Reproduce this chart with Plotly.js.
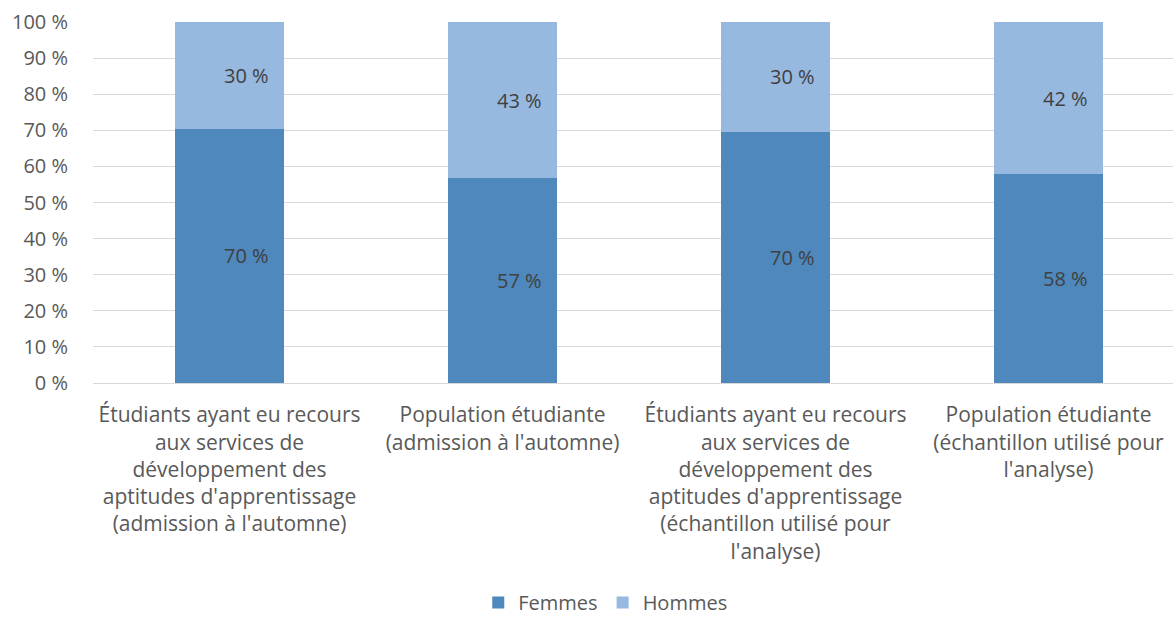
<!DOCTYPE html>
<html>
<head>
<meta charset="utf-8">
<script src="https://cdn.plot.ly/plotly-3.0.1.min.js"></script>
<style>html,body{margin:0;padding:0;background:#fff;}#chart{width:1173px;height:622px;}</style>
</head>
<body>
<div id="chart"></div>
<script>
const categories = [
  "Étudiants ayant eu recours<br>aux services de<br>développement des<br>aptitudes d'apprentissage<br>(admission à l'automne)",
  "Population étudiante<br>(admission à l'automne)",
  "Étudiants ayant eu recours<br>aux services de<br>développement des<br>aptitudes d'apprentissage<br>(échantillon utilisé pour<br>l'analyse)",
  "Population étudiante<br>(échantillon utilisé pour<br>l'analyse)"
];
const femmes = [70.4, 56.7, 69.6, 57.8];
const hommes = [29.6, 43.3, 30.4, 42.2];
const femmesLabels = ["70 %", "57 %", "70 %", "58 %"];
const hommesLabels = ["30 %", "43 %", "30 %", "42 %"];
const yTicks = [0, 10, 20, 30, 40, 50, 60, 70, 80, 90, 100];
const yTickText = ["0 %", "10 %", "20 %", "30 %", "40 %", "50 %", "60 %", "70 %", "80 %", "90 %", "100 %"];

const FONT = "Open Sans, Liberation Sans, sans-serif";
const idx = categories.map((c, i) => i);

const traces = [
  {type: "bar", name: "Femmes", x: idx, y: femmes, marker: {color: "#4F88BC"}, width: 0.4, hoverinfo: "none"},
  {type: "bar", name: "Hommes", x: idx, y: hommes, marker: {color: "#97B8DF"}, width: 0.4, hoverinfo: "none"}
];

const annotations = [];
idx.forEach(i => {
  annotations.push({x: i, y: femmes[i] / 2, text: femmesLabels[i], showarrow: false, xshift: 17,
    font: {family: FONT, size: 20, color: "#404040"}});
  annotations.push({x: i, y: femmes[i] + hommes[i] / 2, text: hommesLabels[i], showarrow: false, xshift: 17,
    font: {family: FONT, size: 20, color: "#404040"}});
});

const layout = {
  width: 1173, height: 622,
  margin: {l: 93, r: 0, t: 22, b: 239, autoexpand: false},
  barmode: "stack",
  paper_bgcolor: "#fff", plot_bgcolor: "#fff",
  font: {family: FONT, color: "#595959", size: 20},
  showlegend: true,
  legend: {orientation: "h", xref: "container", yref: "container", x: 0.516, xanchor: "center", y: 0.0, yanchor: "bottom",
    font: {family: FONT, size: 20, color: "#595959"}, traceorder: "normal"},
  xaxis: {
    range: [-0.5, 3.456], tickmode: "array", tickvals: idx, ticktext: categories,
    showgrid: false, zeroline: false, showline: false, automargin: false,
    ticks: "outside", ticklen: 13, tickcolor: "rgba(0,0,0,0)",
    tickfont: {family: FONT, size: 21, color: "#595959"}
  },
  yaxis: {
    range: [0, 100], tickmode: "array", tickvals: yTicks, ticktext: yTickText,
    showgrid: true, gridcolor: "#D9D9D9", gridwidth: 1, automargin: false,
    zeroline: true, zerolinecolor: "#D9D9D9", zerolinewidth: 1, showline: false,
    ticks: "outside", ticklen: 20, tickcolor: "rgba(0,0,0,0)",
    tickfont: {family: FONT, size: 20, color: "#595959"}
  },
  annotations: annotations
};

Plotly.newPlot("chart", traces, layout, {staticPlot: true, displayModeBar: false});
</script>
</body>
</html>
